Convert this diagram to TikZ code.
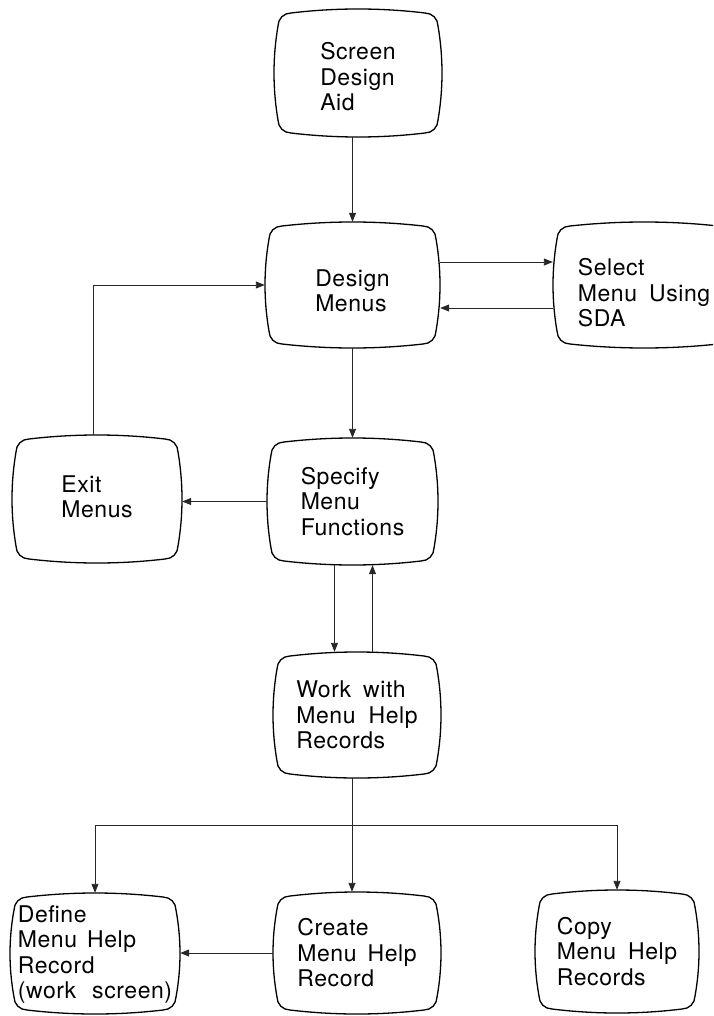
\documentclass[tikz,border=0pt]{standalone}
\usepackage{fontspec}
\setmainfont{TeX Gyre Heros}[LetterSpace=2.5]
\usetikzlibrary{arrows.meta}

\tikzset{
  frame/.style={line width=1.3pt, black},
  conn/.style={line width=0.9pt, black!85, -{Triangle[length=9pt,width=7pt]}},
  plain/.style={line width=0.9pt, black!85},
  boxtext/.style={inner sep=0pt, align=left, font=\fontsize{23}{25.5}\selectfont},
}

% gap between words
\newcommand\wgap[1]{\hspace{#1pt}}

% Screen-shaped box: [text drop], name, left, top, right, bottom, text (y grows downward)
\newcommand\tvbox[7][0]{%
  \pgfmathsetmacro\tvw{#5-#3}%
  \pgfmathsetmacro\tvh{#6-#4}%
  \pgfmathsetmacro\tvcx{(#3+#5)/2}%
  \pgfmathsetmacro\tvcy{(#4+#6)/2}%
  \node[inner sep=0pt, minimum width=\tvw pt, minimum height=\tvh pt] (#2) at (\tvcx,\tvcy) {};
  \node[boxtext] (#2-text) at ([yshift=-#1pt]#2.center) {#7};
  \pgfmathsetmacro\tva{4}%
  \pgfmathsetmacro\tvc{13}%
  \pgfmathsetmacro\tvk{0.448*\tvc}%
  \pgfmathsetmacro\tvLi{#3+\tva}%
  \pgfmathsetmacro\tvRi{#5-\tva}%
  \pgfmathsetmacro\tvTi{#4+\tva}%
  \pgfmathsetmacro\tvBi{#6-\tva}%
  \pgfmathsetmacro\tvXa{\tvLi+\tvc+(\tvRi-\tvLi-2*\tvc)/3}%
  \pgfmathsetmacro\tvXb{\tvRi-\tvc-(\tvRi-\tvLi-2*\tvc)/3}%
  \pgfmathsetmacro\tvYa{\tvTi+\tvc+(\tvBi-\tvTi-2*\tvc)/3}%
  \pgfmathsetmacro\tvYb{\tvBi-\tvc-(\tvBi-\tvTi-2*\tvc)/3}%
  \pgfmathsetmacro\tvTo{#4-\tva/3}%
  \pgfmathsetmacro\tvBo{#6+\tva/3}%
  \pgfmathsetmacro\tvLo{#3-\tva/3}%
  \pgfmathsetmacro\tvRo{#5+\tva/3}%
  \draw[frame]
    ({\tvLi+\tvc},\tvTi)
      .. controls (\tvXa,\tvTo) and (\tvXb,\tvTo) .. ({\tvRi-\tvc},\tvTi)
      .. controls ({\tvRi-\tvk},\tvTi) and (\tvRi,{\tvTi+\tvk}) .. (\tvRi,{\tvTi+\tvc})
      .. controls (\tvRo,\tvYa) and (\tvRo,\tvYb) .. (\tvRi,{\tvBi-\tvc})
      .. controls (\tvRi,{\tvBi-\tvk}) and ({\tvRi-\tvk},\tvBi) .. ({\tvRi-\tvc},\tvBi)
      .. controls (\tvXb,\tvBo) and (\tvXa,\tvBo) .. ({\tvLi+\tvc},\tvBi)
      .. controls ({\tvLi+\tvk},\tvBi) and (\tvLi,{\tvBi-\tvk}) .. (\tvLi,{\tvBi-\tvc})
      .. controls (\tvLo,\tvYb) and (\tvLo,\tvYa) .. (\tvLi,{\tvTi+\tvc})
      .. controls (\tvLi,{\tvTi+\tvk}) and ({\tvLi+\tvk},\tvTi) .. ({\tvLi+\tvc},\tvTi)
      -- cycle;
}

\begin{document}
\begin{tikzpicture}[x=1pt,y=-1pt]
  \useasboundingbox (0,0) rectangle (713,1016);
  \clip (0,0) rectangle (713,1016);

  % boxes
  \tvbox[4]{sda}{274}{9}{442}{137}{Screen\\Design\\Aid}
  \tvbox[6]{design}{265}{222}{440}{348}{Design\\Menus}
  \tvbox[8]{select}{553}{222}{735}{348}{Select\\Menu\wgap{12}Using\\SDA}
  \tvbox[-2]{exitm}{12}{435}{182}{563}{Exit\\Menus}
  \tvbox{specify}{267}{438}{438}{565}{Specify\\Menu\\Functions}
  \tvbox{work}{273}{652}{441}{778}{Work\wgap{12}with\\Menu\wgap{13}Help\\Records}
  \tvbox[1]{define}{10}{893}{180}{1014}{Define\\Menu\wgap{10}Help\\Record\\(work\wgap{16}screen)}
  \tvbox{create}{273}{892}{441}{1014}{Create\\Menu\wgap{11}Help\\Record}
  \tvbox{copy}{535}{890}{699}{1013}{Copy\\Menu\wgap{12}Help\\Records}

  % connectors
  \draw[conn] (sda.south -| design.north) -- (design.north);
  \draw[conn] ([yshift=23pt]design.east) -- ([yshift=23pt]design.east -| select.west);
  \draw[conn] ([yshift=-23pt]select.west) -- ([yshift=-23pt]select.west -| design.east);
  \draw[conn] (design.south) -- (specify.north);
  \draw[conn] (specify.west) -- (specify.west -| exitm.east);
  \draw[conn] ([xshift=-4pt]exitm.north) |- (design.west);
  \draw[conn] ([xshift=-18pt]specify.south) -- ([xshift=-18pt]specify.south |- work.north);
  \draw[conn] ([xshift=20pt]specify.south |- work.north) -- ([xshift=20pt]specify.south);

  \coordinate (fork) at (352,825);
  \draw[plain] (work.south -| fork) -- (fork);
  \draw[conn] (fork) -- (fork |- create.north);
  \draw[conn] (fork) -| (define.north);
  \draw[conn] (fork) -| (copy.north);
  \draw[conn] (create.west) -- (create.west -| define.east);
\end{tikzpicture}
\end{document}
